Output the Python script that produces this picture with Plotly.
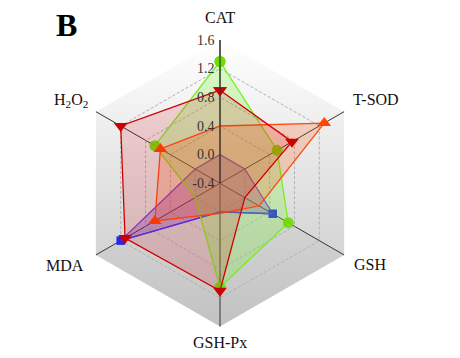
import numpy as np
import plotly.graph_objects as go

# ---------------- data ----------------
categories = ["CAT", "T-SOD", "GSH", "GSH-Px", "MDA", "H2O2"]
category_labels = ["CAT", "T-SOD", "GSH", "GSH-Px", "MDA", "H<sub>2</sub>O<sub>2</sub>"]
green_vals = [1.30, 0.52, 0.70, 1.05, 0.00, 0.65]
red_vals = [0.90, 0.76, 0.00, 1.10, 1.13, 1.20]
orange_vals = [0.40, 1.28, 0.23, 0.02, 0.65, 0.56]
purple_vals = [0.00, 0.00, 0.45, 0.00, 1.20, 0.00]
radial_ticks = [-0.4, 0.0, 0.4, 0.8, 1.2, 1.6]
radial_ticktext = ["-0.4", "0.0", "0.4", "0.8", "1.2", "1.6"]

# figure size (page body adds an 8px margin)
W, H = 452, 350
SERIF = "Liberation Serif"

# polar geometry in figure pixels
cx, cy, R = 212.0, 175.3, 143.3
dom_x = [(cx - R) / W, (cx + R) / W]
dom_y = [(H - (cy + R)) / H, (H - (cy - R)) / H]


def closed(v):
    return list(v) + [v[0]]


fig = go.Figure()

# ---- pseudo-3D background faces (cartesian, under the polar layer) ----
angs = [np.deg2rad(90 - 60 * k) for k in range(6)]
vx = [cx + R * np.cos(a) for a in angs]
vy = [cy - R * np.sin(a) for a in angs]
faces = [
    ([0, 1, 2], cy - R, cy + R / 2, "#ffffff", "#d4d4d4"),
    ([4, 5, 0], cy - R, cy + R / 2, "#ffffff", "#d4d4d4"),
    ([2, 3, 4], cy, cy + R, "#dadada", "#c2c2c2"),
]
for idx, y0, y1, c0, c1 in faces:
    xs = [cx] + [vx[i] for i in idx] + [cx]
    ys = [cy] + [vy[i] for i in idx] + [cy]
    fig.add_trace(go.Scatter(
        x=xs, y=ys, mode="lines", line=dict(width=0), fill="toself",
        fillgradient=dict(type="vertical", colorscale=[[0, c0], [1, c1]],
                          start=y0, stop=y1),
        hoverinfo="skip", showlegend=False, xaxis="x", yaxis="y"))

# ---- data series ----
theta = closed(categories)

fig.add_trace(go.Scatterpolar(
    r=closed(purple_vals), theta=theta, mode="lines+markers", fill="toself",
    fillcolor="rgba(120,40,200,0.30)",
    line=dict(color="#7A35D0", width=1.3),
    marker=dict(symbol="square", size=8.5,
                color=["#7030A0", "#7030A0", "#2525F0", "#7030A0", "#2525F0", "#7030A0", "#7030A0"]),
    showlegend=False))
blue_idx = [4, 3, 2]
fig.add_trace(go.Scatterpolar(
    r=[purple_vals[i] for i in blue_idx], theta=[categories[i] for i in blue_idx],
    mode="lines", line=dict(color="#3A3AF5", width=1.3), showlegend=False))

fig.add_trace(go.Scatterpolar(
    r=closed(green_vals), theta=theta, mode="lines+markers", fill="toself",
    fillcolor="rgba(110,240,40,0.25)",
    line=dict(color="#77EE22", width=1.3),
    marker=dict(symbol="circle", size=11, color="rgba(110,220,0,0.9)"),
    showlegend=False))

fig.add_trace(go.Scatterpolar(
    r=closed(orange_vals), theta=theta, mode="lines+markers", fill="toself",
    fillcolor="rgba(255,80,10,0.22)",
    line=dict(color="#FF4A10", width=1.3),
    marker=dict(symbol="triangle-up", size=12, color="#FF4500"),
    showlegend=False))

fig.add_trace(go.Scatterpolar(
    r=closed(red_vals), theta=theta, mode="lines+markers", fill="toself",
    fillcolor="rgba(215,0,0,0.15)",
    line=dict(color="#D00000", width=1.3),
    marker=dict(symbol="triangle-down", size=12, color="#CC0000"),
    showlegend=False))

# ---- category labels as annotations placed around the hexagon vertices ----
label_offsets = [(0, -23, "center"), (7, -12.5, "left"), (8, 10, "left"),
                 (0, 15.5, "center"), (-10, 11, "right"), (-6, -11.5, "right")]
annotations = []
for k, lab in enumerate(category_labels):
    dx, dy, anchor = label_offsets[k]
    annotations.append(dict(text=lab, x=vx[k] + dx, y=vy[k] + dy, xref="x", yref="y",
                            showarrow=False, xanchor=anchor, yanchor="middle",
                            font=dict(family=SERIF, size=16, color="#111")))
annotations.append(dict(text="<b>B</b>", x=58.5, y=17, xref="x", yref="y",
                        showarrow=False, font=dict(family=SERIF, size=32, color="#000"),
                        xanchor="center", yanchor="middle"))

fig.update_layout(
    width=W, height=H, autosize=False,
    margin=dict(l=0, r=0, t=0, b=0),
    paper_bgcolor="white", plot_bgcolor="rgba(0,0,0,0)",
    font=dict(family=SERIF, color="#111"),
    xaxis=dict(range=[0, W], domain=[0, 1], visible=False, fixedrange=True),
    yaxis=dict(range=[H, 0], domain=[0, 1], visible=False, fixedrange=True),
    polar=dict(
        domain=dict(x=dom_x, y=dom_y),
        bgcolor="rgba(0,0,0,0)",
        gridshape="linear",
        radialaxis=dict(
            range=[radial_ticks[0], radial_ticks[-1]],
            tickvals=radial_ticks, ticktext=radial_ticktext,
            angle=90, side="counterclockwise", tickangle=90,
            showline=True, linecolor="#333", linewidth=1.2,
            gridcolor="#b0b0b0", griddash="3px,2px", gridwidth=1,
            ticks="", tickfont=dict(family=SERIF, size=14, color="#3a3330"),
            layer="above traces"),
        angularaxis=dict(
            direction="clockwise", rotation=90,
            tickvals=categories, showticklabels=False,
            showline=False, gridcolor="#333", gridwidth=1.1,
            ticks="", layer="above traces"),
    ),
    annotations=annotations,
)

fig.write_html("out.html")
